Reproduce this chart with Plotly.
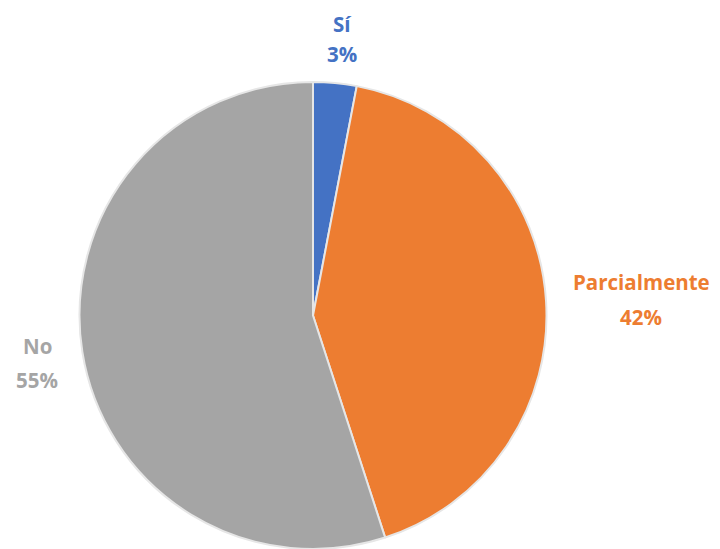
import plotly.graph_objects as go

categories = ["Sí", "Parcialmente", "No"]
values = [3, 42, 55]
colors = ["#4472C4", "#ED7D31", "#A5A5A5"]

# page body has an 8px margin; figure sized to fit inside the window
OFF = 8
W, H = 720 - OFF, 549 - OFF
# desired on-screen positions (pixels)
cx, cy, r = 313, 316, 234
label_px = [(342, 21, 54), (641, 282, 317), (37, 346, 380)]
FS = 20.5

def px_x(x):
    return (x - OFF) / W

def px_y(y):
    return 1 - (y - OFF) / H

y0 = max(0.0, px_y(cy + r))
y1 = min(1.0, px_y(cy - r))

fig = go.Figure(go.Pie(
    labels=categories,
    values=values,
    marker=dict(colors=colors, line=dict(color="#e6e6e6", width=2)),
    sort=False,
    direction="clockwise",
    rotation=0,
    textinfo="none",
    hoverinfo="label+percent",
    showlegend=False,
    domain=dict(x=[px_x(cx - r), px_x(cx + r)], y=[y0, y1]),
))

annotations = []
for name, v, c, (x, ya, yb) in zip(categories, values, colors, label_px):
    for txt, yy in ((f"<b>{name}</b>", ya), (f"<b>{v}%</b>", yb)):
        top_edge = (yy - OFF) - FS * 0.7
        if top_edge < 0:
            ann = dict(y=1, yanchor="top")
        else:
            ann = dict(y=px_y(yy), yanchor="middle")
        ann.update(x=px_x(x), xref="paper", yref="paper", text=txt, showarrow=False,
                   font=dict(color=c, size=FS, family="Open Sans"), xanchor="center")
        annotations.append(ann)

fig.update_layout(
    width=W, height=H,
    margin=dict(l=0, r=0, t=0, b=0),
    paper_bgcolor="white", plot_bgcolor="white",
    annotations=annotations,
)
fig.write_html("out.html")
